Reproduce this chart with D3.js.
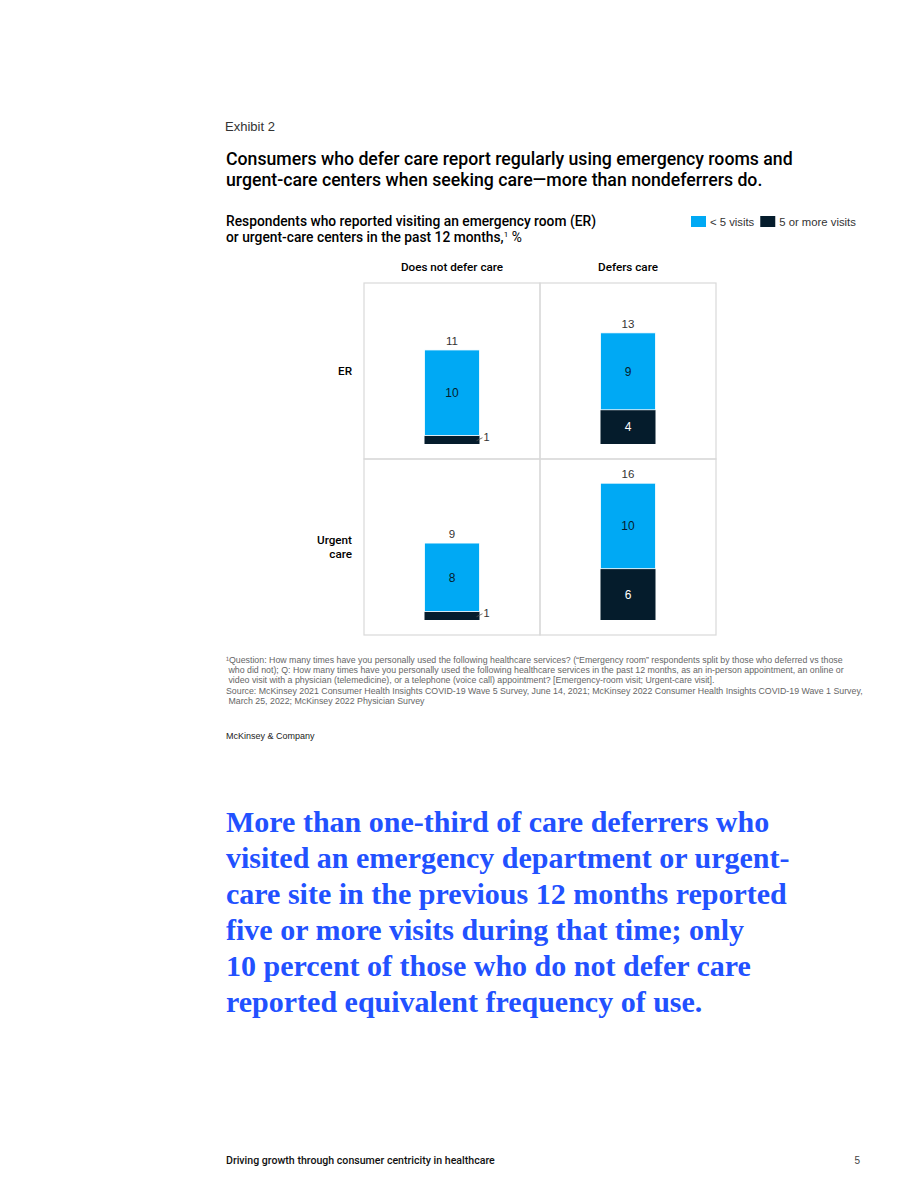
<!DOCTYPE html>
<html>
<head>
<meta charset="utf-8">
<script src="https://cdn.jsdelivr.net/npm/d3@7"></script>
<style>
  html, body { margin: 0; padding: 0; background: #fff; }
  svg { display: block; }
</style>
</head>
<body>
<svg id="chart"></svg>
<script>
// data
const columns = ["Does not defer care", "Defers care"];
const rowNames = ["ER", "Urgent care"];
const erUnder5 = [10, 9];
const erFivePlus = [1, 4];
const erTotal = [11, 13];
const urgentUnder5 = [8, 10];
const urgentFivePlus = [1, 6];
const urgentTotal = [9, 16];
const seriesNames = ["< 5 visits", "5 or more visits"];

const footnotes = [
  "\u00B9Question: How many times have you personally used the following healthcare services? (\u201CEmergency room\u201D respondents split by those who deferred vs those",
  " who did not); Q: How many times have you personally used the following healthcare services in the past 12 months, as an in-person appointment, an online or",
  " video visit with a physician (telemedicine), or a telephone (voice call) appointment? [Emergency-room visit; Urgent-care visit].",
  "Source: McKinsey 2021 Consumer Health Insights COVID-19 Wave 5 Survey, June 14, 2021; McKinsey 2022 Consumer Health Insights COVID-19 Wave 1 Survey,",
  " March 25, 2022; McKinsey 2022 Physician Survey"
];
const quoteLines = [
  "More than one-third of care deferrers who",
  "visited an emergency department or urgent-",
  "care site in the previous 12 months reported",
  "five or more visits during that time; only",
  "10 percent of those who do not defer care",
  "reported equivalent frequency of use."
];

const width = 920, height = 1191;
const colors = { light: "#00A9F4", dark: "#051C2C", grid: "#D9D9D9", blue: "#2251FF" };
const sans = "'Liberation Sans', Arial, sans-serif";

const svg = d3.select("#chart").attr("width", width).attr("height", height);

// header texts
svg.append("text").attr("x", 225).attr("y", 131)
  .style("font-family", sans).style("font-size", "13px").style("fill", "#333")
  .text("Exhibit 2");

const title = svg.append("text").style("font-family", "Roboto, sans-serif")
  .style("font-size", "17.7px").style("font-weight", 500).style("fill", "#000");
["Consumers who defer care report regularly using emergency rooms and",
 "urgent-care centers when seeking care\u2014more than nondeferrers do."]
  .forEach((t, i) => title.append("tspan").attr("x", 226).attr("y", 165 + i * 21).text(t));

const sub = svg.append("text").style("font-family", "Roboto, sans-serif")
  .style("font-size", "13.8px").style("font-weight", 500).style("fill", "#000");
sub.append("tspan").attr("x", 226).attr("y", 226)
  .text("Respondents who reported visiting an emergency room (ER)");
sub.append("tspan").attr("x", 226).attr("y", 242)
  .text("or urgent-care centers in the past 12 months,");
sub.append("tspan").attr("dy", -5).style("font-size", "8px").style("font-weight", 400).text("1");
sub.append("tspan").attr("dy", 5).style("font-weight", 400).text(" %");

// legend
const legend = svg.append("g").attr("transform", "translate(691,216)");
let lx = 0;
seriesNames.forEach((name, i) => {
  legend.append("rect").attr("x", lx).attr("y", 0).attr("width", 15).attr("height", 11)
    .attr("fill", i === 0 ? colors.light : colors.dark);
  const t = legend.append("text").attr("x", lx + 19).attr("y", 10)
    .style("font-family", sans).style("font-size", "11.3px").style("fill", "#333")
    .text(name);
  lx += 19 + t.node().getComputedTextLength() + 6;
});

// grid of small multiples
const x = d3.scaleBand().domain(columns).range([364, 716]);
const y = d3.scaleBand().domain(rowNames).range([283, 635]);
const v = d3.scaleLinear().domain([0, 1]).range([0, 8.55]);
const barW = 55;

const rowsData = [
  { row: "ER", under5: erUnder5, fivePlus: erFivePlus, total: erTotal },
  { row: "Urgent care", under5: urgentUnder5, fivePlus: urgentFivePlus, total: urgentTotal }
];

const grid = svg.append("g");
columns.forEach(c => rowNames.forEach(r => {
  grid.append("rect").attr("x", x(c)).attr("y", y(r))
    .attr("width", x.bandwidth()).attr("height", y.bandwidth())
    .attr("fill", "none").attr("stroke", colors.grid).attr("stroke-width", 1.2);
}));

// column headers
svg.append("g").selectAll("text").data(columns).join("text")
  .attr("x", d => x(d) + x.bandwidth() / 2).attr("y", 271)
  .attr("text-anchor", "middle")
  .style("font-family", "Roboto, sans-serif").style("font-weight", 500)
  .style("font-size", "11.7px").style("fill", "#000")
  .text(d => d);

// row labels
svg.append("g").selectAll("text").data(rowNames).join("text")
  .attr("text-anchor", "end")
  .style("font-family", "Roboto, sans-serif").style("font-weight", 500)
  .style("font-size", "11.7px").style("fill", "#000")
  .each(function (d) {
    const words = d.split(" ");
    const cy = y(d) + y.bandwidth() / 2;
    const lh = 14;
    words.forEach((w, i) => {
      d3.select(this).append("tspan").attr("x", 352)
        .attr("y", cy + 4 + (i - (words.length - 1) / 2) * lh).text(w);
    });
  });

// bars
rowsData.forEach(rd => {
  const base = y(rd.row) + y.bandwidth() - 15;
  columns.forEach((c, ci) => {
    const bx = x(c) + x.bandwidth() / 2 - barW / 2;
    const hDark = v(rd.fivePlus[ci]);
    const hLight = v(rd.under5[ci]);
    const g = svg.append("g");
    g.append("rect").attr("x", bx).attr("y", base - hDark).attr("width", barW).attr("height", hDark)
      .attr("fill", colors.dark);
    g.append("rect").attr("x", bx).attr("y", base - hDark - hLight).attr("width", barW).attr("height", hLight)
      .attr("fill", colors.light).attr("stroke", "#fff").attr("stroke-width", 0.8);
    // segment labels
    g.append("text").attr("x", bx + barW / 2).attr("y", base - hDark - hLight / 2 + 4.5)
      .attr("text-anchor", "middle").style("font-family", sans).style("font-size", "12px")
      .style("fill", colors.dark).text(rd.under5[ci]);
    if (hDark > 14) {
      g.append("text").attr("x", bx + barW / 2).attr("y", base - hDark / 2 + 4.5)
        .attr("text-anchor", "middle").style("font-family", sans).style("font-size", "12px")
        .style("fill", "#fff").text(rd.fivePlus[ci]);
    } else {
      const my = base - hDark / 2;
      g.append("line").attr("x1", bx + barW - 3).attr("y1", my + 1)
        .attr("x2", bx + barW + 3).attr("y2", my - 2)
        .attr("stroke", "#555").attr("stroke-width", 0.8);
      g.append("text").attr("x", bx + barW + 4).attr("y", my + 1)
        .style("font-family", sans).style("font-size", "11px").style("fill", "#333")
        .text(rd.fivePlus[ci]);
    }
    // total
    g.append("text").attr("x", bx + barW / 2).attr("y", base - v(rd.total[ci]) - 5)
      .attr("text-anchor", "middle").style("font-family", sans).style("font-size", "11.5px")
      .style("fill", "#333").text(rd.total[ci]);
  });
});

// footnotes
const fn = svg.append("g").style("font-family", sans).style("font-size", "8.8px").style("fill", "#666");
footnotes.forEach((t, i) => {
  fn.append("text").attr("x", 226).attr("y", 663 + i * 10.2).attr("xml:space", "preserve").text(t);
});

svg.append("text").attr("x", 226).attr("y", 739)
  .style("font-family", sans).style("font-size", "9px").style("fill", "#222")
  .text("McKinsey & Company");

// pull quote
const q = svg.append("text").style("font-family", "'Liberation Serif', 'Times New Roman', serif")
  .style("font-weight", 700).style("font-size", "30px").style("fill", colors.blue);
quoteLines.forEach((t, i) => q.append("tspan").attr("x", 226).attr("y", 832 + i * 36).text(t));

// footer
svg.append("text").attr("x", 226).attr("y", 1164)
  .style("font-family", "Roboto, sans-serif").style("font-weight", 500)
  .style("font-size", "10.6px").style("fill", "#111")
  .text("Driving growth through consumer centricity in healthcare");
svg.append("text").attr("x", 860).attr("y", 1164).attr("text-anchor", "end")
  .style("font-family", sans).style("font-size", "10px").style("fill", "#444")
  .text("5");
</script>
</body>
</html>
